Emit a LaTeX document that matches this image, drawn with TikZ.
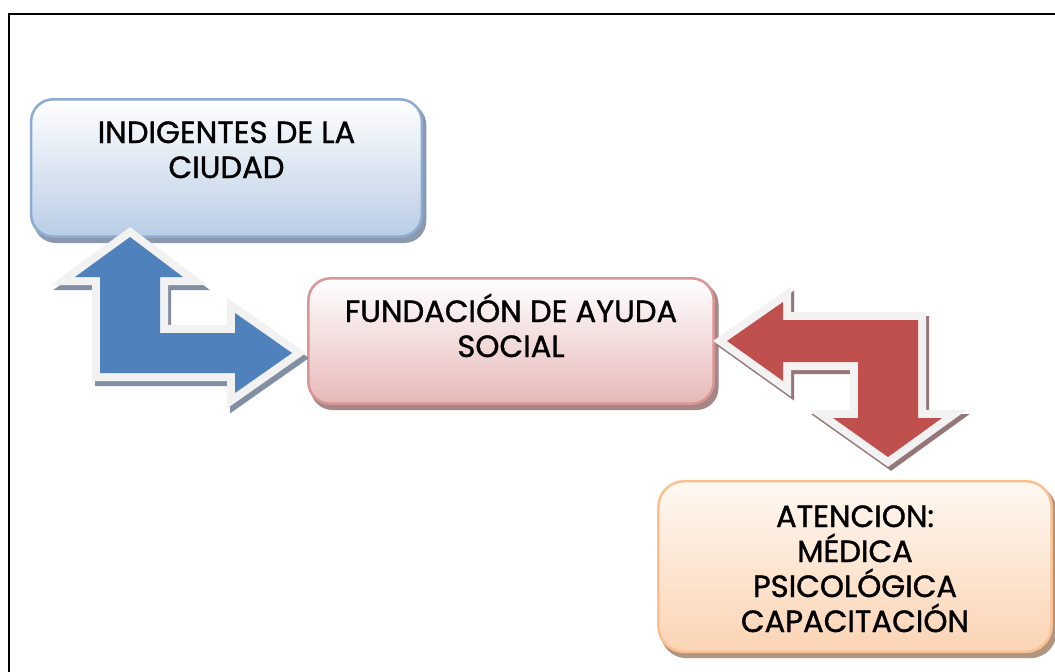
\documentclass[tikz,border=0pt]{standalone}
\usepackage{fontspec}
\setmainfont{Poppins}
\newfontfamily\boxfont{Poppins}[FakeBold=1.2]
\definecolor{bluefill}{HTML}{4F81BD}
\definecolor{redfill}{HTML}{C0504D}
\definecolor{outl}{HTML}{F2F2F2}
\definecolor{shblue}{RGB}{130,142,162}
\definecolor{shred}{RGB}{150,118,118}
\definecolor{boxAbot}{HTML}{B9CDE5}
\definecolor{boxAbd}{RGB}{140,172,212}
\definecolor{boxAsh}{RGB}{140,152,172}
\definecolor{boxBbot}{HTML}{E6B9B8}
\definecolor{boxBbd}{HTML}{D99694}
\definecolor{boxBsh}{RGB}{165,135,135}
\definecolor{boxCtop}{RGB}{255,248,242}
\definecolor{boxCbot}{HTML}{FBD4B4}
\definecolor{boxCbd}{HTML}{FAC090}
\definecolor{boxCsh}{RGB}{175,150,130}
\tikzset{
  boxbase/.style={rectangle, inner sep=0pt, line width=1.9pt},
  boxA/.style={boxbase, rounded corners=16.5pt, draw=boxAbd, top color=white, bottom color=boxAbot,
    minimum width=293pt, minimum height=103pt},
  boxB/.style={boxbase, rounded corners=16.5pt, draw=boxBbd, top color=white, bottom color=boxBbot,
    minimum width=304pt, minimum height=94pt},
  boxC/.style={boxbase, rounded corners=19.5pt, draw=boxCbd, top color=boxCtop, bottom color=boxCbot,
    minimum width=295pt, minimum height=128pt},
  boxshadow/.style={rectangle, inner sep=0pt, fill=#1},
  txt/.style={anchor=base, inner sep=0pt, font=\boxfont\fontsize{23}{26.25}\selectfont},
  arrshadow/.style={fill=#1, draw=#1, line width=12pt, line join=miter},
  arroutline/.style={fill=outl, draw=outl, line width=12pt, line join=miter},
  bluearr/.pic={\path[pic actions] (130,237) -- (183,277) -- (160,277) -- (160,333) -- (235,333)
      -- (235,313) -- (292,353) -- (235,393) -- (235,373) -- (100,373) -- (100,277) -- (75,277) -- cycle;},
  redarr/.pic={\path[pic actions] (727,341) -- (783,302) -- (783,320) -- (918,320) -- (918,418)
      -- (942,418) -- (888,457) -- (833,418) -- (858,418) -- (858,362) -- (783,362) -- (783,381) -- cycle;}
}
\begin{document}
\begin{tikzpicture}[x=0.75pt, y=-0.75pt]
\useasboundingbox (0,0) rectangle (1055,671);
\clip (0,0) rectangle (1055,671);
\fill[white] (0,0) rectangle (1055,671);
% frame
\draw[line width=1.7pt] (1100,14) -- (9,14) -- (9,720);
% box shadows
\node[boxshadow=boxAsh, rounded corners=16.5pt, minimum width=294.5pt, minimum height=105pt] (indsh) at (230,173) {};
\node[boxshadow=boxBsh, rounded corners=16.5pt, minimum width=306pt, minimum height=96pt] (fundsh) at (514.5,346) {};
\node[boxshadow=boxCsh, rounded corners=19.5pt, minimum width=297pt, minimum height=130pt] (atensh) at (858.5,571.5) {};
% boxes
\node[boxA] (ind) at (226.5,168) {};
\node[boxB] (fund) at (511,341) {};
\node[boxC] (aten) at (855,566.5) {};
% arrows
\pic[arrshadow=shblue] at (3,5) {bluearr};
\pic[arroutline] at (0,0) {bluearr};
\pic[fill=bluefill] at (0,0) {bluearr};
\pic[arrshadow=shred] at (3,4) {redarr};
\pic[arroutline] at (0,0) {redarr};
\pic[fill=redfill] at (0,0) {redarr};
% texts
\node[txt] (indtxt) at (226.5,143) {\begin{tabular}[t]{@{}c@{}}\smash{INDIGENTES DE LA}\\\smash{CIUDAD}\end{tabular}};
\node[txt] (fundtxt) at (511,322) {\begin{tabular}[t]{@{}c@{}}\smash{FUNDACIÓN DE AYUDA}\\\smash{SOCIAL}\end{tabular}};
\node[txt] (atentxt) at (855,527) {\begin{tabular}[t]{@{}c@{}}\smash{ATENCION:}\\\smash{MÉDICA}\\\smash{PSICOLÓGICA}\\\smash{CAPACITACIÓN}\end{tabular}};
\end{tikzpicture}
\end{document}
